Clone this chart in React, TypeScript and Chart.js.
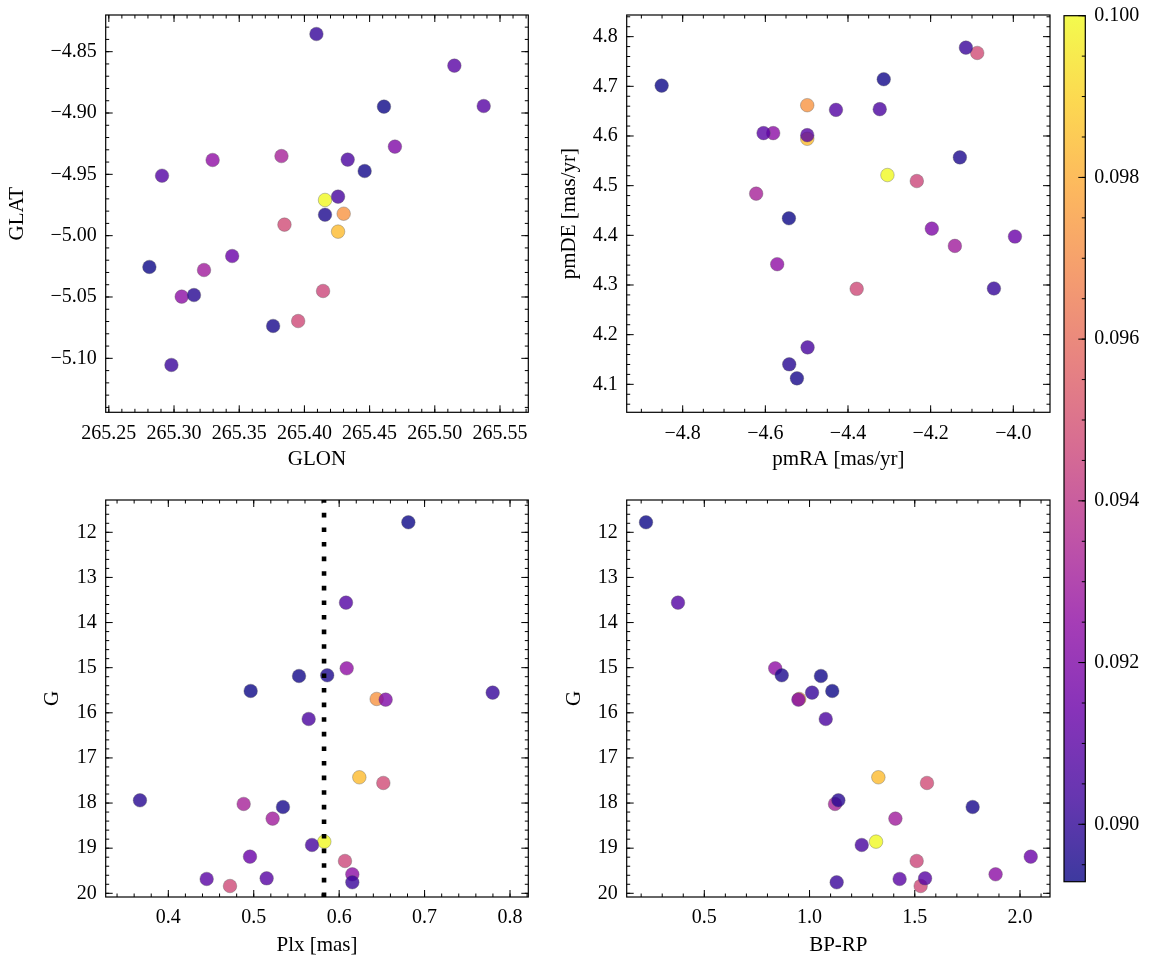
import React, { useEffect, useRef } from "react";
import { Chart, registerables } from "chart.js";
Chart.register(...registerables);

const W = 1155;
const H = 965;
const OFF = 80; // canvases are larger than the page so Chart.js never needs extra room
const CW = W + 2 * OFF;
const CH = H + 2 * OFF;
const SERIF = "'Liberation Serif', 'DejaVu Serif', serif";
Chart.defaults.font.family = SERIF;

// ---- star data (one entry per star, same order in every array) ----
const GLON = [265.461, 265.2908, 265.3296, 265.4462, 265.4158, 265.2811, 265.4092, 265.4301, 265.4694, 265.4332, 265.4258, 265.3847, 265.3824, 265.3059, 265.3153, 265.376, 265.323, 265.4158, 265.4258, 265.3446, 265.4143, 265.3952, 265.515, 265.5375, 265.298];
const GLAT = [-4.8948, -4.9511, -4.9383, -4.9473, -4.9829, -5.0255, -4.8356, -4.9821, -4.9274, -4.938, -4.9967, -4.991, -4.9351, -5.0497, -5.0484, -5.0736, -5.028, -4.9709, -4.9682, -5.0166, -5.0451, -5.0696, -4.8614, -4.8943, -5.1054];
const PMRA = [-4.8509, -4.4291, -4.5713, -4.3135, -4.1293, -4.543, -4.0469, -4.4986, -4.1972, -4.3232, -4.4986, -4.0873, -4.6222, -4.581, -4.5422, -4.5236, -4.1414, -4.3046, -4.4978, -3.996, -4.2335, -4.379, -4.6044, -4.4986, -4.1147];
const PMDE = [4.7015, 4.6526, 4.3419, 4.7143, 4.5569, 4.4343, 4.293, 4.662, 4.4135, 4.654, 4.5944, 4.7672, 4.4839, 4.6058, 4.1403, 4.1121, 4.3787, 4.5214, 4.1744, 4.3975, 4.5093, 4.2923, 4.6058, 4.6017, 4.7779];
const PLX = [0.681, 0.608, 0.6088, 0.553, 0.586, 0.4964, 0.7797, 0.6439, 0.6544, 0.5643, 0.6236, 0.6517, 0.4882, 0.6154, 0.3668, 0.5342, 0.5221, 0.5826, 0.5682, 0.4956, 0.6068, 0.4722, 0.4449, 0.5151, 0.6154];
const GMAG = [11.778, 13.559, 15.014, 15.184, 15.169, 15.516, 15.553, 15.693, 15.708, 16.137, 17.429, 17.555, 18.02, 19.579, 17.939, 18.087, 18.345, 18.855, 18.929, 19.188, 19.284, 19.838, 19.682, 19.668, 19.756];
const BPRP = [0.223, 0.375, 0.837, 1.054, 0.868, 1.108, 1.012, 0.951, 0.947, 1.077, 1.327, 1.558, 1.121, 1.884, 1.137, 1.775, 1.408, 1.316, 1.248, 2.051, 1.509, 1.528, 1.428, 1.549, 1.129];
const CVAL = [0.08929, 0.0908, 0.0925, 0.0894, 0.0896, 0.0893, 0.0901, 0.0973, 0.092, 0.0906, 0.0984, 0.0948, 0.0932, 0.0924, 0.0898, 0.0895, 0.093, 0.1, 0.0905, 0.0914, 0.0946, 0.0947, 0.091, 0.0909, 0.0902];

const PLX_LINE = 0.5823;

// ---- axis ticks ----
const GLON_TICKS = [265.25, 265.3, 265.35, 265.4, 265.45, 265.5, 265.55];
const GLAT_TICKS = [-4.85, -4.9, -4.95, -5.0, -5.05, -5.1];
const PMRA_TICKS = [-4.8, -4.6, -4.4, -4.2, -4.0];
const PMDE_TICKS = [4.1, 4.2, 4.3, 4.4, 4.5, 4.6, 4.7, 4.8];
const PLX_TICKS = [0.4, 0.5, 0.6, 0.7, 0.8];
const G_TICKS = [12, 13, 14, 15, 16, 17, 18, 19, 20];
const BPRP_TICKS = [0.5, 1.0, 1.5, 2.0];
const CB_TICKS = [0.09, 0.092, 0.094, 0.096, 0.098, 0.1];

// plasma colormap table
const PLASMA = [
  [13, 8, 135], [65, 4, 157], [106, 0, 168], [143, 13, 164], [177, 42, 144],
  [204, 71, 120], [225, 100, 98], [242, 132, 75], [252, 166, 54], [252, 206, 37], [240, 249, 33],
];
const ALPHA = 0.8;
const VMIN = Math.min(...CVAL);
const VMAX = Math.max(...CVAL);

function plasma(t: number, a: number) {
  const tt = Math.max(0, Math.min(1, t));
  const n = PLASMA.length;
  const f = tt * (n - 1);
  const i = Math.min(Math.floor(f), n - 2);
  const u = f - i;
  const c = [0, 1, 2].map((k) => Math.round(PLASMA[i][k] * (1 - u) + PLASMA[i + 1][k] * u));
  return `rgba(${c[0]},${c[1]},${c[2]},${a})`;
}

function steps(a: number, b: number, s: number) {
  const out: number[] = [];
  const n0 = Math.ceil(a / s - 1e-9);
  const n1 = Math.floor(b / s + 1e-9);
  for (let n = n0; n <= n1; n++) out.push(n * s);
  return out;
}

const fmt = (d: number) => (v: number) => Number(v).toFixed(d).replace("-", "\u2212");

type PanelCfg = {
  area: { l: number; t: number; r: number; b: number };
  yBoxW: number;
  xBoxH: number;
  xMin: number; xMax: number; yMin: number; yMax: number;
  reverseY?: boolean;
  xMajor: number[]; yMajor: number[];
  xMinorStep: number; yMinorStep: number;
  xDec: number; yDec: number;
  xTitle: string; yTitle: string;
  xs: number[]; ys: number[];
  vline?: number;
};

const TICK_FONT = { family: SERIF, size: 20 };
const TITLE_FONT = { family: SERIF, size: 21 };
const MAJ = 7;
const MIN = 3.5;

function drawTicks(ctx: CanvasRenderingContext2D, chart: any, xMajor: number[], xMinor: number[], yMajor: number[], yMinor: number[]) {
  const { left, right, top, bottom } = chart.chartArea;
  const xs = chart.scales.x;
  const ys = chart.scales.y;
  ctx.save();
  ctx.strokeStyle = "#000";
  ctx.lineWidth = 1;
  const tx = (vals: number[], len: number) => {
    for (const v of vals) {
      const p = xs.getPixelForValue(v);
      if (p < left - 0.5 || p > right + 0.5) continue;
      ctx.beginPath();
      ctx.moveTo(p, bottom); ctx.lineTo(p, bottom - len);
      ctx.moveTo(p, top); ctx.lineTo(p, top + len);
      ctx.stroke();
    }
  };
  const ty = (vals: number[], len: number) => {
    for (const v of vals) {
      const p = ys.getPixelForValue(v);
      if (p < top - 0.5 || p > bottom + 0.5) continue;
      ctx.beginPath();
      ctx.moveTo(left, p); ctx.lineTo(left + len, p);
      ctx.moveTo(right, p); ctx.lineTo(right - len, p);
      ctx.stroke();
    }
  };
  tx(xMajor, MAJ); tx(xMinor, MIN); ty(yMajor, MAJ); ty(yMinor, MIN);
  ctx.lineWidth = 1.2;
  ctx.strokeRect(left, top, right - left, bottom - top);
  ctx.restore();
}

function makePanel(canvas: HTMLCanvasElement, p: PanelCfg) {
  const colors = CVAL.map((v) => plasma((v - VMIN) / (VMAX - VMIN), ALPHA));
  const pts = p.xs.map((x, i) => ({ x, y: p.ys[i] }));
  const xMinor = steps(p.xMin, p.xMax, p.xMinorStep);
  const yMinor = steps(Math.min(p.yMin, p.yMax), Math.max(p.yMin, p.yMax), p.yMinorStep);
  const datasets: any[] = [];
  if (p.vline !== undefined) {
    const yStart = p.reverseY ? p.yMax : p.yMin;
    const yEnd = p.reverseY ? p.yMin : p.yMax;
    datasets.push({
      type: "line",
      data: [{ x: p.vline, y: yStart }, { x: p.vline, y: yEnd }],
      borderColor: "#000",
      borderWidth: 4.6,
      borderDash: [4.6, 10],
      pointRadius: 0,
      fill: false,
      order: 0,
    });
  }
  datasets.push({
    type: "scatter",
    data: pts,
    pointBackgroundColor: colors,
    pointBorderColor: "rgba(90,90,90,0.6)",
    pointBorderWidth: 0.6,
    pointRadius: 6.8,
    order: 1,
  });
  const plugin = {
    id: "frameTicks",
    afterDraw(chart: any) {
      drawTicks(chart.ctx, chart, p.xMajor, xMinor, p.yMajor, yMinor);
    },
  };
  return new Chart(canvas, {
    type: "scatter",
    data: { datasets },
    options: {
      responsive: false,
      animation: false,
      devicePixelRatio: 1,
      events: [],
      layout: {
        padding: {
          left: OFF + p.area.l - p.yBoxW,
          top: OFF + p.area.t,
          right: OFF + W - p.area.r,
          bottom: OFF + H - p.area.b - p.xBoxH,
        },
      },
      plugins: { legend: { display: false }, tooltip: { enabled: false } },
      scales: {
        x: {
          type: "linear",
          min: p.xMin,
          max: p.xMax,
          afterBuildTicks: (s: any) => { s.ticks = p.xMajor.map((v) => ({ value: v })); },
          afterFit: (s: any) => { s.height = p.xBoxH; },
          grid: { display: false, drawTicks: false },
          border: { display: false },
          ticks: { font: TICK_FONT, color: "#000", padding: 9, autoSkip: false, maxRotation: 0, minRotation: 0, callback: fmt(p.xDec) },
          title: { display: true, text: p.xTitle, font: TITLE_FONT, color: "#000", padding: 0 },
        },
        y: {
          type: "linear",
          min: p.yMin,
          max: p.yMax,
          reverse: !!p.reverseY,
          afterBuildTicks: (s: any) => { s.ticks = p.yMajor.map((v) => ({ value: v })); },
          afterFit: (s: any) => { s.width = p.yBoxW; },
          grid: { display: false, drawTicks: false },
          border: { display: false },
          ticks: { font: TICK_FONT, color: "#000", padding: 9, autoSkip: false, callback: fmt(p.yDec) },
          title: { display: true, text: p.yTitle, font: TITLE_FONT, color: "#000", padding: 0 },
        },
      },
    } as any,
    plugins: [plugin],
  });
}

function makeColorbar(canvas: HTMLCanvasElement) {
  const area = { l: 1064, t: 15.7, r: 1085.3, b: 881.7 };
  const boxW = 60;
  const cbMinor = steps(VMIN, VMAX, 0.0005);
  const plugin = {
    id: "cbar",
    beforeDatasetsDraw(chart: any) {
      const { left, right, top, bottom } = chart.chartArea;
      const ctx = chart.ctx as CanvasRenderingContext2D;
      const g = ctx.createLinearGradient(0, bottom, 0, top);
      PLASMA.forEach((_, i) => g.addColorStop(i / (PLASMA.length - 1), plasma(i / (PLASMA.length - 1), ALPHA)));
      ctx.save();
      ctx.fillStyle = g;
      ctx.fillRect(left, top, right - left, bottom - top);
      ctx.restore();
    },
    afterDraw(chart: any) {
      const { left, right, top, bottom } = chart.chartArea;
      const ctx = chart.ctx as CanvasRenderingContext2D;
      const ys = chart.scales.y;
      ctx.save();
      ctx.strokeStyle = "#000";
      ctx.lineWidth = 1;
      const t = (vals: number[], len: number) => {
        for (const v of vals) {
          const p = ys.getPixelForValue(v);
          if (p < top - 0.5 || p > bottom + 0.5) continue;
          ctx.beginPath();
          ctx.moveTo(right, p); ctx.lineTo(right - len, p);
          ctx.stroke();
        }
      };
      t(CB_TICKS, MAJ);
      t(cbMinor, MIN);
      ctx.lineWidth = 1.2;
      ctx.strokeRect(left, top, right - left, bottom - top);
      ctx.restore();
    },
  };
  return new Chart(canvas, {
    type: "scatter",
    data: { datasets: [] },
    options: {
      responsive: false,
      animation: false,
      devicePixelRatio: 1,
      events: [],
      layout: { padding: { left: OFF + area.l, top: OFF + area.t, right: OFF + W - area.r - boxW, bottom: OFF + H - area.b } },
      plugins: { legend: { display: false }, tooltip: { enabled: false } },
      scales: {
        x: { type: "linear", display: false, min: 0, max: 1 },
        y: {
          type: "linear",
          position: "right",
          min: VMIN,
          max: VMAX,
          afterBuildTicks: (s: any) => { s.ticks = CB_TICKS.map((v) => ({ value: v })); },
          afterFit: (s: any) => { s.width = boxW; },
          grid: { display: false, drawTicks: false },
          border: { display: false },
          ticks: { font: TICK_FONT, color: "#000", padding: 9, autoSkip: false, callback: fmt(3) },
        },
      },
    } as any,
    plugins: [plugin],
  });
}

const PANELS: PanelCfg[] = [
  {
    area: { l: 105.7, t: 15, r: 528.3, b: 412.3 }, yBoxW: 101.3, xBoxH: 59.3,
    xMin: 265.2476, xMax: 265.5717, yMin: -5.144, yMax: -4.8201,
    xMajor: GLON_TICKS, yMajor: GLAT_TICKS, xMinorStep: 0.01, yMinorStep: 0.01,
    xDec: 2, yDec: 2, xTitle: "GLON", yTitle: "GLAT", xs: GLON, ys: GLAT,
  },
  {
    area: { l: 626.7, t: 15, r: 1050, b: 412.3 }, yBoxW: 69.8, xBoxH: 59.3,
    xMin: -4.9355, xMax: -3.9112, yMin: 4.0437, yMax: 4.8436,
    xMajor: PMRA_TICKS, yMajor: PMDE_TICKS, xMinorStep: 0.05, yMinorStep: 0.02,
    xDec: 1, yDec: 1, xTitle: "pmRA [mas/yr]", yTitle: "pmDE [mas/yr]", xs: PMRA, ys: PMDE,
  },
  {
    area: { l: 105.7, t: 500, r: 528.3, b: 897 }, yBoxW: 66.3, xBoxH: 60.6,
    xMin: 0.3267, xMax: 0.8214, yMin: 11.284, yMax: 20.082, reverseY: true,
    xMajor: PLX_TICKS, yMajor: G_TICKS, xMinorStep: 0.02, yMinorStep: 0.2,
    xDec: 1, yDec: 0, xTitle: "Plx [mas]", yTitle: "G", xs: PLX, ys: GMAG, vline: PLX_LINE,
  },
  {
    area: { l: 626.7, t: 500, r: 1050, b: 897 }, yBoxW: 65.3, xBoxH: 60.6,
    xMin: 0.1313, xMax: 2.1425, yMin: 11.284, yMax: 20.082, reverseY: true,
    xMajor: BPRP_TICKS, yMajor: G_TICKS, xMinorStep: 0.1, yMinorStep: 0.2,
    xDec: 1, yDec: 0, xTitle: "BP-RP", yTitle: "G", xs: BPRP, ys: GMAG,
  },
];

function Layer({ make }: { make: (c: HTMLCanvasElement) => Chart }) {
  const ref = useRef<HTMLCanvasElement>(null);
  useEffect(() => {
    const ch = make(ref.current as HTMLCanvasElement);
    return () => ch.destroy();
  }, []);
  return (
    <canvas
      ref={ref}
      width={CW}
      height={CH}
      style={{ position: "absolute", left: -OFF, top: -OFF, width: CW, height: CH }}
    />
  );
}

export default function App() {
  return (
    <div style={{ position: "fixed", left: 0, top: 0, width: W, height: H, background: "#fff", overflow: "hidden" }}>
      {PANELS.map((p, i) => (
        <Layer key={i} make={(c) => makePanel(c, p)} />
      ))}
      <Layer make={makeColorbar} />
    </div>
  );
}
